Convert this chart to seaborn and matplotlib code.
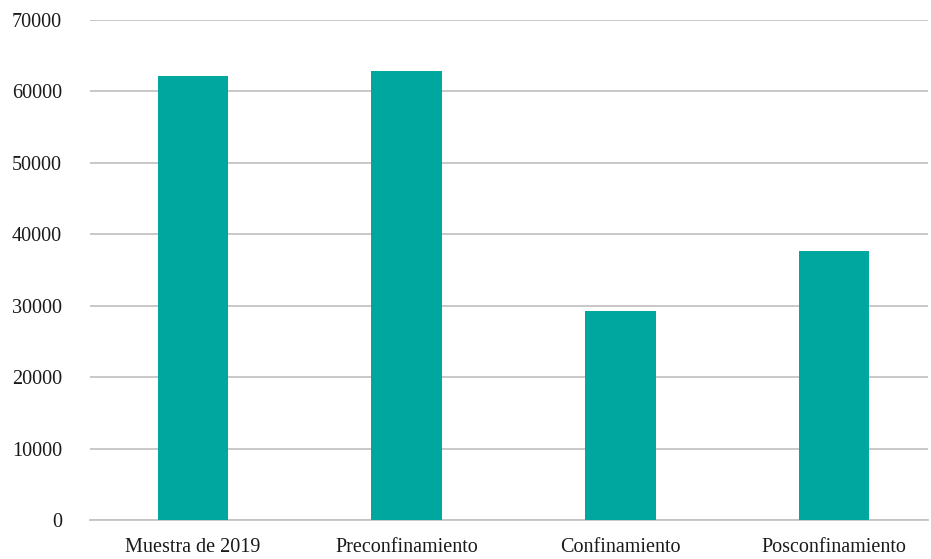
import matplotlib
matplotlib.use("Agg")
import matplotlib.pyplot as plt
import seaborn as sns
import pandas as pd

categorias = ["Muestra de 2019", "Preconfinamiento", "Confinamiento", "Posconfinamiento"]
valores = [62100, 62800, 29250, 37670]

df = pd.DataFrame({"cat": categorias, "val": valores})

sns.set_style("white")
plt.rcParams["font.family"] = ["Liberation Serif", "DejaVu Serif"]

fig = plt.figure(figsize=(9.31, 5.59), dpi=100)
ax = fig.add_axes([90 / 931, 39 / 559, 838 / 931, 500 / 559])

sns.barplot(data=df, x="cat", y="val", color="#00A79F", width=0.33,
            saturation=1, linewidth=0, ax=ax, zorder=3)

ax.set_ylim(0, 70000)
ax.set_xlim(-0.482, 3.44)
ax.set_yticks(range(0, 70001, 10000))
ax.yaxis.grid(True, color="#c4c4c4", linewidth=1.3, zorder=0)
ax.set_axisbelow(True)
for s in ["top", "right", "left"]:
    ax.spines[s].set_visible(False)
ax.spines["bottom"].set_color("#c4c4c4")
ax.spines["bottom"].set_linewidth(1.3)
ax.set_xlabel("")
ax.set_ylabel("")
ax.tick_params(axis="both", length=0, labelsize=14.5, colors="#1a1a1a")
ax.tick_params(axis="y", pad=20)
ax.tick_params(axis="x", pad=13)

fig.savefig("out.png", dpi=100)
